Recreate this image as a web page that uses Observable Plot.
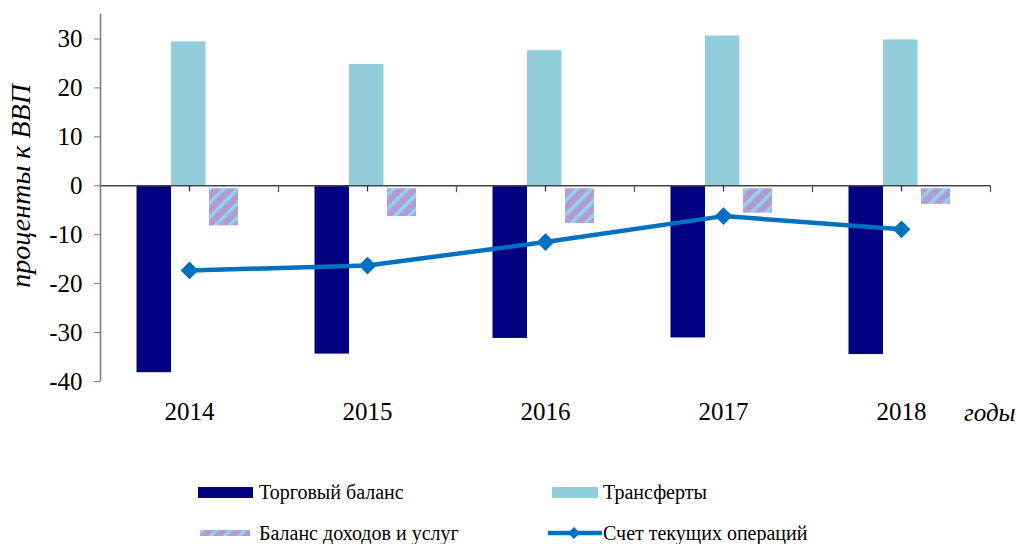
<!DOCTYPE html>
<html>
<head>
<meta charset="utf-8">
<script src="https://cdn.jsdelivr.net/npm/d3@7"></script>
<script src="https://cdn.jsdelivr.net/npm/@observablehq/plot@0.6"></script>
<style>
  body { margin: 0; background: #fff; }
  #wrap { position: relative; width: 1017px; height: 544px; overflow: hidden; }
  .leg { position: absolute; font-family: "Liberation Serif", "Times New Roman", Times, "DejaVu Serif", serif; font-size: 20px; color: #000; white-space: nowrap; line-height: 1; }
  .sw { position: absolute; }
  svg text { font-family: "Liberation Serif", "Times New Roman", Times, "DejaVu Serif", serif; }
</style>
</head>
<body>
<div id="wrap"></div>
<script>
const years = ["2014", "2015", "2016", "2017", "2018"];
const tradeBalance = [-38.2, -34.4, -31.2, -31.1, -34.5];
const transfers = [29.4, 24.8, 27.6, 30.6, 29.8];
const incomeBalance = [-8.2, -6.3, -7.7, -5.6, -3.8];
const currentAccount = [-17.3, -16.3, -11.5, -6.2, -8.9];
const yTicks = [-40, -30, -20, -10, 0, 10, 20, 30];
const seriesNames = ["Торговый баланс", "Трансферты", "Баланс доходов и услуг", "Счет текущих операций"];

const W = 1017, H = 440;
const mL = 100, mR = 27, mT = 14, mB = 59;
const bw = (W - mL - mR) / years.length;

const rows = years.map((y, i) => ({
  year: y, trade: tradeBalance[i], transfer: transfers[i], income: incomeBalance[i], ca: currentAccount[i]
}));

const font = "'Liberation Serif', 'Times New Roman', Times, 'DejaVu Serif', serif";

const chart = Plot.plot({
  width: W, height: H,
  marginLeft: mL, marginRight: mR, marginTop: mT, marginBottom: mB,
  style: { fontFamily: font, fontSize: "26px", color: "#000", background: "#fff", overflow: "visible" },
  x: { type: "band", domain: years, padding: 0, axis: null },
  y: { domain: [-40, 35], axis: null },
  marks: [
    Plot.barY(rows, { x: "year", y: "trade", fill: "#000080", insetLeft: 36.5, insetRight: bw - 71 }),
    Plot.barY(rows, { x: "year", y: "transfer", fill: "#92cddc", insetLeft: 71, insetRight: bw - 105.5 }),
    Plot.barY(rows, { x: "year", y: "income", fill: "url(#stripes)", insetLeft: 109, insetRight: bw - 138, insetTop: 3 }),
    Plot.ruleY([0], { stroke: "#444", strokeWidth: 1.5 }),
    Plot.ruleX(years, { x: d => d, y1: 0, y2: -1.25, stroke: "#333", strokeWidth: 1.3 }),
    Plot.ruleX(years, { x: d => d, y1: 0, y2: -1.4, dx: bw / 2, stroke: "#555", strokeWidth: 1.3 }),
    Plot.ruleX([years[0]], { x: d => d, y1: -40, y2: 35, dx: -bw / 2, stroke: "#777", strokeWidth: 1.5 }),
    Plot.axisY(yTicks, { tickSize: 6, tickPadding: 12, stroke: "#777", fontSize: 25, fill: "#000", label: null, tickFormat: d => String(d) }),
    Plot.text(years, { x: d => d, y: -40, text: d => d, dy: 30, fontSize: 25, fill: "#000" }),
    Plot.lineY(rows, { x: "year", y: "ca", stroke: "#0070c0", strokeWidth: 4.5 }),
    Plot.dot(rows, { x: "year", y: "ca", symbol: "diamond2", r: 8, fill: "#0070c0", stroke: "none" }),
    Plot.text(["проценты к ВВП"], { frameAnchor: "left", textAnchor: "middle", dx: -79, dy: -12, rotate: -90, fontSize: 28, fontStyle: "italic", fill: "#000" }),
    Plot.text(["годы"], { frameAnchor: "bottom-right", textAnchor: "end", dx: 25, dy: 39, fontSize: 25, fontStyle: "italic", fill: "#000" })
  ]
});

const svg = d3.select(chart);
const defs = svg.insert("defs", ":first-child");
const pat = defs.append("pattern")
  .attr("id", "stripes").attr("patternUnits", "userSpaceOnUse")
  .attr("width", 10).attr("height", 10)
  .attr("patternTransform", "rotate(45)");
pat.append("rect").attr("width", 10).attr("height", 10).attr("fill", "#b399d6");
pat.append("rect").attr("width", 3.5).attr("height", 10).attr("fill", "#8fd5e8");

const wrap = document.getElementById("wrap");
wrap.appendChild(chart);

function addSwatch(x, y, w, h, fill) {
  const s = document.createElementNS("http://www.w3.org/2000/svg", "svg");
  s.setAttribute("width", w); s.setAttribute("height", h);
  s.setAttribute("class", "sw");
  s.style.left = x + "px"; s.style.top = y + "px";
  s.innerHTML = fill;
  wrap.appendChild(s);
}
function addText(x, y, t) {
  const d = document.createElement("div");
  d.className = "leg"; d.style.left = x + "px"; d.style.top = y + "px";
  d.textContent = t;
  wrap.appendChild(d);
}
addSwatch(198, 487, 55, 11, '<rect width="55" height="11" fill="#000080"/>');
addText(259, 482, seriesNames[0]);
addSwatch(552, 487, 46, 11, '<rect width="46" height="11" fill="#92cddc"/>');
addText(603, 482, seriesNames[1]);
addSwatch(200, 530, 50, 6, '<defs><pattern id="lp" patternUnits="userSpaceOnUse" width="10" height="10" patternTransform="rotate(45)"><rect width="10" height="10" fill="#b399d6"/><rect width="3.5" height="10" fill="#8fd5e8"/></pattern></defs><rect width="50" height="6" fill="url(#lp)"/>');
addText(259, 523, seriesNames[2]);
addSwatch(547, 525, 56, 16, '<line x1="1" y1="8" x2="55" y2="8" stroke="#0070c0" stroke-width="4.5"/><path d="M27,2 L33,8 L27,14 L21,8 Z" fill="#0070c0"/>');
addText(603, 523, seriesNames[3]);
</script>
</body>
</html>
